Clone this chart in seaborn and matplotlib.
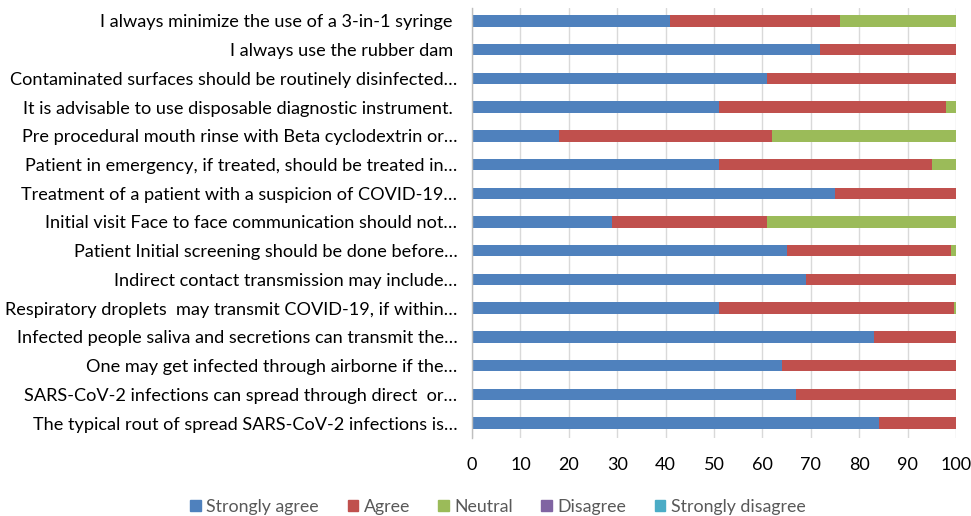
import matplotlib
matplotlib.use("Agg")
import matplotlib.pyplot as plt
import matplotlib.patches as mpatches
import seaborn as sns
import pandas as pd
import numpy as np

statements = [
    "I always minimize the use of a 3-in-1 syringe ",
    "I always use the rubber dam ",
    "Contaminated surfaces should be routinely disinfected…",
    "It is advisable to use disposable diagnostic instrument. ",
    "Pre procedural mouth rinse with Beta cyclodextrin or…",
    "Patient in emergency, if treated, should be treated in…",
    "Treatment of a patient with a suspicion of COVID-19…",
    "Initial visit Face to face communication should not…",
    "Patient Initial screening should be done before…",
    "Indirect contact transmission may include…",
    "Respiratory droplets  may transmit COVID-19, if within…",
    "Infected people saliva and secretions can transmit the…",
    "One may get infected through airborne if the…",
    "SARS-CoV-2 infections can spread through direct  or…",
    "The typical rout of spread SARS-CoV-2 infections is…",
]
strongly_agree = [41, 72, 61, 51, 18, 51, 75, 29, 65, 69, 51, 83, 64, 67, 84]
agree = [35, 28, 39, 47, 44, 44, 25, 32, 34, 31, 48.6, 17, 36, 33, 16]
neutral = [24, 0, 0, 2, 38, 5, 0, 39, 1, 0, 0.4, 0, 0, 0, 0]
disagree = [0] * 15
strongly_disagree = [0] * 15

series_names = ["Strongly agree", "Agree", "Neutral", "Disagree", "Strongly disagree"]
colors = ["#4F81BD", "#C0504D", "#9BBB59", "#8064A2", "#4BACC6"]
x_ticks = [0, 10, 20, 30, 40, 50, 60, 70, 80, 90, 100]

df = pd.DataFrame({
    "statement": statements,
    "Strongly agree": strongly_agree,
    "Agree": agree,
    "Neutral": neutral,
    "Disagree": disagree,
    "Strongly disagree": strongly_disagree,
})
cum = df[series_names].cumsum(axis=1)

sns.set_theme(style="white")
plt.rcParams["font.family"] = ["Lato", "DejaVu Sans"]

fig = plt.figure(figsize=(9.71, 5.16), dpi=100)
ax = fig.add_axes([472 / 971, 1 - 438 / 516, (956 - 472) / 971, (438 - 8) / 516])

for name, col in reversed(list(zip(series_names, colors))):
    sns.barplot(x=cum[name], y=df["statement"], order=statements, color=col,
                width=0.4, ax=ax, orient="h", saturation=1, edgecolor="none")

ax.set_xlim(0, 100)
ax.set_ylim(14.52, -0.45)
ax.set_xticks(x_ticks)
ax.set_xticklabels([str(t) for t in x_ticks], fontsize=13, color="#000000")
ax.tick_params(axis="x", length=0, pad=14)
ax.tick_params(axis="y", length=0, pad=10.5, labelsize=13.1, labelcolor="#000000")
ax.set_xlabel("")
ax.set_ylabel("")
ax.xaxis.grid(True, color="#D9D9D9", linewidth=1)
ax.set_axisbelow(True)
for s in ["top", "right", "bottom"]:
    ax.spines[s].set_visible(False)
ax.spines["left"].set_color("#BFBFBF")
ax.spines["left"].set_linewidth(1)

handles = [mpatches.Patch(color=c, label=n) for n, c in zip(series_names, colors)]
fig.legend(handles=handles, loc="center", bbox_to_anchor=(498 / 971, 1 - 507 / 516),
           ncol=5, frameon=False, fontsize=12.8, handlelength=0.6, handleheight=0.6,
           handletextpad=0.3, columnspacing=1.6, labelcolor="#595959")

fig.savefig("out.png", dpi=100)
